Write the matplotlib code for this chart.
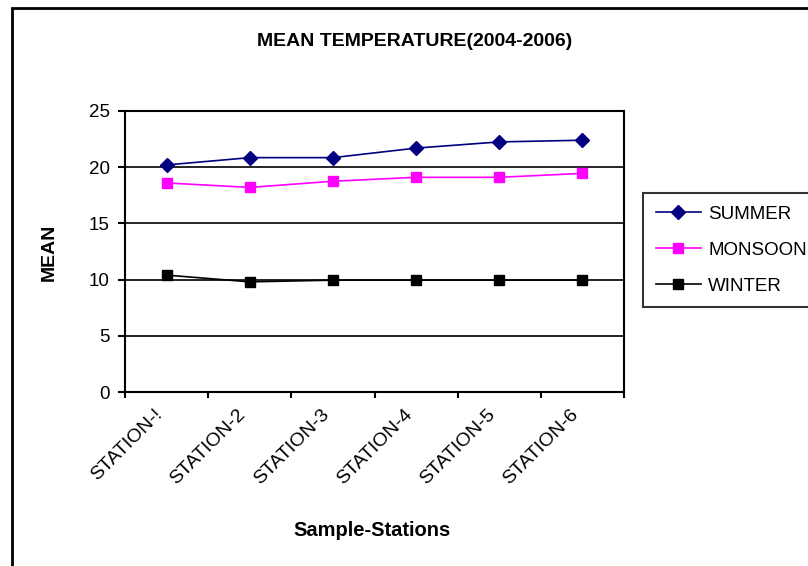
import numpy as np
import matplotlib.pyplot as plt
from matplotlib.patches import Rectangle

plt.rcParams['font.family'] = ['Liberation Sans', 'DejaVu Sans']

# Mean temperature by station and season
stations = ["STATION-!", "STATION-2", "STATION-3", "STATION-4", "STATION-5", "STATION-6"]
summer = [20.2, 20.85, 20.85, 21.7, 22.25, 22.4]
monsoon = [18.6, 18.2, 18.75, 19.1, 19.1, 19.45]
winter = [10.4, 9.8, 9.95, 9.95, 9.95, 9.95]

fig = plt.figure(figsize=(8.08, 5.66), dpi=100)
ax = fig.add_axes([0.1547, 0.3074, 0.7723 - 0.1547, 0.8039 - 0.3074])

x = np.arange(len(stations))
ax.plot(x, summer, color="#000080", marker="D", markersize=7, linewidth=1.2,
        label="SUMMER", zorder=3)
ax.plot(x, monsoon, color="#ff00ff", marker="s", markersize=7.5, linewidth=1.2,
        label="MONSOON", zorder=3)
ax.plot(x, winter, color="black", marker="s", markersize=7.5, linewidth=1.2,
        label="WINTER", zorder=3)

ax.set_ylim(0, 25)
ax.set_yticks(np.arange(0, 26, 5))
ax.yaxis.grid(True, color="black", linewidth=1.2)
ax.set_axisbelow(True)

# category axis: ticks between categories, slanted names under each category
ax.set_xlim(-0.5, len(stations) - 0.5)
ax.set_xticks(np.arange(-0.5, len(stations), 1.0))
ax.set_xticklabels([])
for i, name in enumerate(stations):
    ax.annotate(name, xy=(i, 0), xycoords=("data", "axes fraction"),
                xytext=(-9, -10), textcoords="offset points", fontsize=14,
                rotation=45, rotation_mode="anchor", ha="right", va="top")
ax.tick_params(axis="x", which="major", length=4.5, width=1.5, direction="out")
ax.tick_params(axis="y", length=5, width=1.5, direction="out", labelsize=13.5, pad=6)

for s in ax.spines.values():
    s.set_color("black")
    s.set_linewidth(1.5)

fig.text(415 / 808, 1 - 42 / 566, "MEAN TEMPERATURE(2004-2006)", fontsize=14,
         fontweight="bold", ha="center", va="center")
fig.text(49 / 808, 1 - 252 / 566, "MEAN", fontsize=14, fontweight="bold",
         rotation=90, ha="center", va="center")
fig.text(372 / 808, 1 - 530 / 566, "Sample-Stations", fontsize=14.5,
         fontweight="bold", ha="center", va="center")

leg = fig.legend(loc="upper left", bbox_to_anchor=(643 / 808, 1 - 193 / 566),
                 fontsize=13.5, frameon=True, fancybox=False, edgecolor="black",
                 handlelength=2.4, handletextpad=0.4, borderpad=0.68,
                 labelspacing=1.0, borderaxespad=0)
leg.get_frame().set_linewidth(1.5)

# chart area border (runs off the right and bottom edges)
fig.patches.append(Rectangle((12 / 808, -0.1), 1.2, 1.1 - 8 / 566,
                             transform=fig.transFigure, fill=False,
                             edgecolor="black", linewidth=2))

fig.savefig("out.png", dpi=100)
